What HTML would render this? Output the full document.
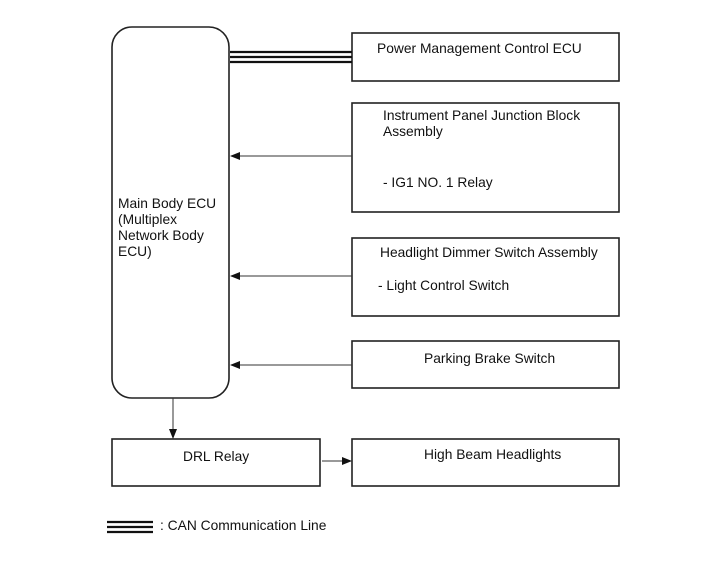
<!DOCTYPE html>
<html><head><meta charset="utf-8"><style>
html,body{margin:0;padding:0;background:#fff;}
svg{display:block;}
text{font-family:"Liberation Sans",Arial,sans-serif;font-size:13.8px;fill:#111;}
</style></head><body>
<svg width="713" height="581" viewBox="0 0 713 581" xmlns="http://www.w3.org/2000/svg">
<defs><marker id="a" markerWidth="10" markerHeight="8" refX="9" refY="4" orient="auto" markerUnits="userSpaceOnUse"><path d="M0,0 L10,4 L0,8 z" fill="#111"/></marker></defs>
<g fill="none" stroke="#222" stroke-width="1.6">
<rect x="112" y="27" width="117" height="371" rx="20"/>
<rect x="352" y="33" width="267" height="48"/>
<rect x="352" y="103" width="267" height="109"/>
<rect x="352" y="238" width="267" height="78"/>
<rect x="352" y="341" width="267" height="47"/>
<rect x="112" y="439" width="208" height="47"/>
<rect x="352" y="439" width="267" height="47"/>
</g>
<g stroke="#111" stroke-width="2.2">
<line x1="230" y1="52" x2="352" y2="52"/><line x1="230" y1="57" x2="352" y2="57"/><line x1="230" y1="62" x2="352" y2="62"/>
<line x1="107" y1="522" x2="153" y2="522"/><line x1="107" y1="527" x2="153" y2="527"/><line x1="107" y1="532" x2="153" y2="532"/>
</g>
<g stroke="#333" stroke-width="1" marker-end="url(#a)">
<line x1="352" y1="156" x2="231" y2="156"/>
<line x1="352" y1="276" x2="231" y2="276"/>
<line x1="352" y1="365" x2="231" y2="365"/>
<line x1="173" y1="398" x2="173" y2="438"/>
<line x1="322" y1="461" x2="351" y2="461"/>
</g>
<text x="377" y="53">Power Management Control ECU</text>
<text x="383" y="120">Instrument Panel Junction Block</text>
<text x="383" y="136">Assembly</text>
<text x="383" y="187">- IG1 NO. 1 Relay</text>
<text x="380" y="257">Headlight Dimmer Switch Assembly</text>
<text x="378" y="290">- Light Control Switch</text>
<text x="424" y="363">Parking Brake Switch</text>
<text x="118" y="208">Main Body ECU</text>
<text x="118" y="224">(Multiplex</text>
<text x="118" y="240">Network Body</text>
<text x="118" y="256">ECU)</text>
<text x="183" y="461">DRL Relay</text>
<text x="424" y="459">High Beam Headlights</text>
<text x="160" y="530">: CAN Communication Line</text>
</svg>
</body></html>
